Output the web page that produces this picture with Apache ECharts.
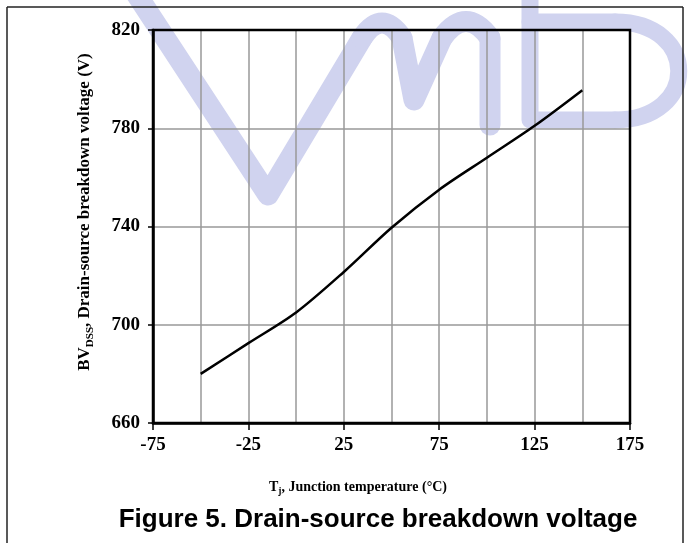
<!DOCTYPE html>
<html><head><meta charset="utf-8">
<script src="https://cdn.jsdelivr.net/npm/echarts@6/dist/echarts.min.js"></script>
<style>html,body{margin:0;padding:0;background:#fff}#c{width:690px;height:543px}</style>
</head><body><div id="c"></div>
<script>
// Data
var tempC = [-50, -25, 0, 25, 50, 75, 100, 125, 150];
var bvdss = [680, 692.5, 705, 721.5, 739.5, 755, 768, 781, 795.5];
var xTicks = [-75, -25, 25, 75, 125, 175];
var yTicks = [660, 700, 740, 780, 820];
var figTitle = 'Figure 5. Drain-source breakdown voltage';

var serif = '"Liberation Serif","Times New Roman",serif';
var chart = echarts.init(document.getElementById('c'), null, {renderer: 'canvas'});
var wm = '#d0d3ef';
function wmStyle(w) { return {fill: null, stroke: wm, lineWidth: w, lineJoin: 'round', lineCap: 'round'}; }
chart.setOption({
  backgroundColor: '#fff',
  animation: false,
  grid: {left: 153, top: 30, right: 60, bottom: 120, show: true, borderColor: '#000', borderWidth: 2.5, z: 3},
  xAxis: {
    type: 'value', min: xTicks[0], max: xTicks[xTicks.length - 1], interval: 50,
    axisLine: {show: true, onZero: false, lineStyle: {color: '#000', width: 2.5}},
    axisTick: {show: true, length: 7, lineStyle: {color: '#000', width: 1.5}},
    axisLabel: {color: '#000', fontFamily: serif, fontWeight: 'bold', fontSize: 19, margin: 13},
    splitLine: {show: true, lineStyle: {color: '#999', width: 1.5}},
    minorTick: {show: false, splitNumber: 2},
    minorSplitLine: {show: true, lineStyle: {color: '#999', width: 1.5}}
  },
  yAxis: {
    type: 'value', min: yTicks[0], max: yTicks[yTicks.length - 1], interval: 40,
    axisLine: {show: true, onZero: false, lineStyle: {color: '#000', width: 2.5}},
    axisTick: {show: true, length: 5, lineStyle: {color: '#000', width: 1.5}},
    axisLabel: {color: '#000', fontFamily: serif, fontWeight: 'bold', fontSize: 19, margin: 13},
    splitLine: {show: true, lineStyle: {color: '#999', width: 1.5}}
  },
  series: [{
    type: 'line', data: tempC.map(function (t, i) { return [t, bvdss[i]]; }),
    showSymbol: false, smooth: 0.3, z: 5,
    lineStyle: {color: '#000', width: 2.5}
  }],
  graphic: [
    {type: 'group', z: -10, silent: true, children: [
      {type: 'polyline', shape: {points: [[135, -8], [268, 195], [362, 38]]}, style: wmStyle(21)},
      {type: 'bezierCurve', shape: {x1: 362, y1: 38, cpx1: 382, cpy1: 8, x2: 402, y2: 38}, style: wmStyle(21)},
      {type: 'polyline', shape: {points: [[402, 38], [414, 100], [442, 38]]}, style: wmStyle(21)},
      {type: 'bezierCurve', shape: {x1: 442, y1: 38, cpx1: 466, cpy1: 5, x2: 490, y2: 38}, style: wmStyle(21)},
      {type: 'line', shape: {x1: 490, y1: 38, x2: 490, y2: 125}, style: wmStyle(21)},
      {type: 'polyline', shape: {points: [[530, -5], [530, 120], [615, 120]]}, style: wmStyle(17)},
      {type: 'bezierCurve', shape: {x1: 615, y1: 120, cpx1: 700, cpy1: 120, cpx2: 700, cpy2: 22, x2: 615, y2: 22}, style: wmStyle(17)},
      {type: 'line', shape: {x1: 615, y1: 22, x2: 530, y2: 22}, style: wmStyle(17)}
    ]},
    {type: 'line', shape: {x1: 7, y1: 7, x2: 683, y2: 7}, style: {stroke: '#222', lineWidth: 1.5}},
    {type: 'line', shape: {x1: 7, y1: 7, x2: 7, y2: 543}, style: {stroke: '#222', lineWidth: 1.5}},
    {type: 'line', shape: {x1: 683, y1: 7, x2: 683, y2: 543}, style: {stroke: '#222', lineWidth: 1.5}},
    {type: 'text', x: 85, y: 212, rotation: Math.PI / 2,
      style: {text: '{a|BV}{s|DSS}{a|, Drain-source breakdown voltage (V)}', align: 'center', verticalAlign: 'middle',
        rich: {a: {fontFamily: serif, fontWeight: 'bold', fontSize: 17, lineHeight: 21, fill: '#000'},
               s: {fontFamily: serif, fontWeight: 'bold', fontSize: 11, lineHeight: 21, verticalAlign: 'bottom', padding: [7, 0, 0, 0], fill: '#000'}}}},
    {type: 'text', x: 358, y: 487,
      style: {text: '{a|T}{s|j}{a|, Junction temperature (°C)}', align: 'center', verticalAlign: 'middle',
        rich: {a: {fontFamily: serif, fontWeight: 'bold', fontSize: 14, lineHeight: 19, fill: '#000'},
               s: {fontFamily: serif, fontWeight: 'bold', fontSize: 9.5, lineHeight: 19, verticalAlign: 'bottom', padding: [6, 0, 0, 0], fill: '#000'}}}},
    {type: 'text', x: 378, y: 520,
      style: {text: figTitle, align: 'center', verticalAlign: 'middle', fill: '#000',
        font: 'bold 26px "Liberation Sans", Arial, sans-serif'}}
  ]
});
</script></body></html>
